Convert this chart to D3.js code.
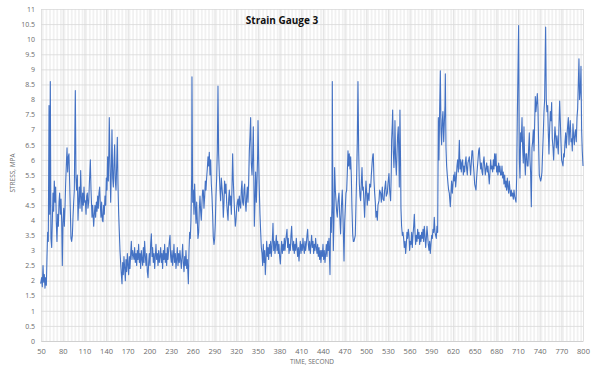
<!DOCTYPE html>
<html>
<head>
<meta charset="utf-8">
<script src="https://cdn.jsdelivr.net/npm/d3@7"></script>
<style>
  body { margin: 0; background: #fff; }
  svg { display: block; }
  .tick text { font-family: "Open Sans", "Liberation Sans", sans-serif; fill: #6b6b6b; }
</style>
</head>
<body>
<svg id="chart" width="600" height="375"></svg>
<script>
// values (time in s, stress)
const timeSec = [
  49.5,50.9,51.8,52.8,53.7,54.6,55.5,56.5,57.4,58.3,59.2,60.1,61.1,62.0,62.9,63.8,64.8,65.7,66.6,67.5,
  68.4,69.4,70.3,71.2,72.1,73.1,74.0,74.9,75.8,76.7,77.7,78.6,79.5,80.4,81.4,82.3,83.2,84.1,85.0,86.0,
  86.9,87.8,88.7,89.7,90.6,91.5,92.4,93.4,94.3,95.2,96.1,97.0,97.5,98.4,99.3,100.3,101.2,102.1,103.0,104.0,
  104.9,105.8,106.7,107.6,108.6,109.5,110.4,111.3,112.3,113.2,114.1,115.0,116.0,116.9,118.3,119.2,120.6,121.5,122.9,123.8,
  124.7,125.6,126.6,127.5,128.4,129.3,130.2,131.2,132.1,133.0,133.9,134.9,135.8,136.7,137.6,138.5,139.5,140.4,141.3,142.2,
  143.2,144.1,144.5,145.5,146.4,147.3,148.2,149.2,150.1,151.0,151.9,152.8,153.8,154.7,155.6,156.5,157.5,158.4,159.3,160.2,
  161.2,162.1,163.0,163.9,164.8,165.8,166.7,167.6,168.5,169.5,170.4,171.3,172.2,173.1,174.1,175.0,175.9,176.8,
  178.7,179.6,180.5,181.5,182.4,183.3,184.2,185.1,186.1,187.0,187.9,188.8,189.8,190.7,191.6,192.5,193.4,194.4,195.3,196.2,
  197.1,198.1,199.0,199.9,200.8,201.7,202.7,203.6,204.5,205.4,206.4,207.3,208.2,209.1,210.0,211.0,211.9,212.8,213.7,214.7,
  215.6,216.5,217.4,218.3,219.3,220.2,221.1,222.0,223.0,223.9,224.8,225.7,226.6,227.6,228.5,229.4,230.3,231.3,232.2,233.1,
  234.0,234.9,235.9,236.8,237.7,238.6,239.6,240.5,241.4,242.3,243.2,244.2,245.1,246.0,246.9,247.9,248.8,249.7,250.6,251.6,
  252.5,253.4,253.9,254.8,255.7,256.6,257.5,258.5,258.9,259.9,260.8,261.7,262.6,263.5,264.5,265.4,266.3,267.2,268.2,269.1,
  270.0,270.9,271.8,272.8,273.7,274.6,275.5,276.5,277.4,278.3,279.2,280.1,281.1,282.0,282.9,283.8,284.8,285.7,286.6,287.5,
  288.4,289.4,290.3,291.2,292.1,293.1,294.0,294.9,295.8,296.8,297.7,298.6,299.5,300.4,301.4,302.3,303.2,
  304.1,305.1,306.0,306.9,307.8,308.8,309.7,310.6,311.5,312.4,313.4,314.3,315.2,316.1,317.1,318.0,318.9,319.8,320.7,321.7,
  322.6,323.5,324.4,325.4,326.3,327.2,328.1,329.0,330.0,330.9,331.8,332.7,333.7,334.6,335.5,336.4,337.3,338.3,339.2,340.1,
  341.0,342.0,342.9,343.8,344.7,345.2,346.1,347.0,348.0,348.9,349.8,350.3,351.2,352.1,353.0,354.0,354.9,355.8,356.7,357.6,
  358.6,359.5,360.4,361.3,362.3,363.2,364.1,365.0,366.0,366.9,367.8,368.7,369.6,370.6,371.0,372.0,372.9,373.8,374.7,375.6,
  376.6,377.5,378.4,379.3,380.2,381.2,382.1,383.0,383.9,384.9,385.8,386.7,387.6,388.5,389.5,390.4,391.3,392.2,393.2,394.1,
  395.0,395.9,396.8,397.8,398.7,399.6,400.5,401.5,402.4,403.3,404.2,405.1,406.1,407.0,407.9,408.8,409.8,410.7,411.6,412.5,
  413.4,414.4,415.3,416.2,417.1,418.1,419.0,419.9,420.8,421.7,422.7,423.6,424.5,425.4,426.4,427.3,428.2,429.1,430.0,431.0,
  431.9,432.8,433.7,434.7,435.6,436.5,437.4,438.4,439.3,440.2,441.1,442.0,443.0,443.9,444.8,445.7,446.7,447.6,448.5,449.4,
  449.9,450.8,451.7,452.7,453.1,454.0,454.5,455.4,456.3,457.3,458.2,459.1,460.0,461.0,462.3,463.3,464.6,465.6,466.9,467.9,
  469.3,470.2,471.1,472.0,473.0,473.9,474.8,475.7,476.6,477.6,478.5,479.4,480.3,481.3,482.2,483.1,484.0,484.9,485.9,486.8,
  487.7,488.6,489.6,490.5,491.4,492.3,493.2,494.2,495.1,496.0,496.9,497.8,498.8,499.7,500.6,501.5,502.5,503.9,504.8,506.2,
  507.1,508.5,509.4,509.8,510.8,511.7,512.6,513.5,514.5,515.4,516.3,517.7,518.6,520.0,520.9,522.3,523.2,524.6,525.5,526.9,
  527.8,529.2,530.1,531.5,532.4,533.8,534.7,535.2,536.1,536.6,537.5,538.4,539.4,539.8,540.7,541.7,542.6,543.5,544.4,545.4,
  545.8,546.7,547.7,548.1,549.0,550.0,550.9,551.8,552.7,553.7,554.6,555.5,556.4,557.3,558.3,
  559.2,560.1,561.0,562.0,562.9,563.8,564.7,565.7,566.6,567.5,568.4,569.3,570.3,571.2,572.1,573.0,574.0,574.9,575.8,576.7,
  577.6,578.6,579.5,580.4,581.3,582.3,583.2,584.1,585.0,585.9,586.9,587.8,588.7,589.6,590.6,591.5,592.4,593.3,594.2,595.2,
  596.1,597.0,597.9,598.9,599.8,600.7,601.6,602.6,603.5,604.4,605.3,606.2,607.2,608.1,609.0,609.5,610.4,611.3,612.2,613.2,
  614.1,615.0,615.9,616.4,617.3,618.2,619.2,620.1,621.0,621.9,622.8,623.8,624.7,625.6,626.5,627.5,628.9,629.8,630.7,631.6,
  632.5,633.5,634.4,635.3,636.2,637.1,638.1,639.0,639.9,640.8,641.8,642.7,643.6,644.5,645.4,646.4,647.3,648.2,649.1,650.1,
  651.0,651.9,652.8,653.7,654.7,655.6,656.5,657.4,658.4,659.3,660.2,661.1,662.0,663.0,663.9,664.8,665.7,666.7,667.6,668.5,
  669.4,670.3,671.3,672.2,673.1,674.0,675.0,675.9,676.8,677.7,678.6,679.6,680.5,681.4,682.3,683.3,684.2,685.1,686.0,
  687.0,687.9,688.8,689.7,690.6,691.6,692.5,693.4,694.3,695.3,696.2,697.1,698.0,699.0,699.9,700.8,701.7,702.6,703.6,704.5,
  705.4,706.3,707.3,708.2,709.1,710.0,710.9,711.9,712.8,713.7,714.6,715.6,716.5,717.4,718.3,719.2,720.2,721.1,722.0,722.9,
  723.9,724.8,725.7,726.6,727.5,728.5,729.4,730.3,731.2,732.2,733.1,734.0,734.9,735.9,736.8,737.7,738.6,739.5,740.5,741.4,
  742.3,743.2,744.2,745.1,746.0,746.9,747.8,748.3,749.2,750.1,751.1,752.0,752.9,753.8,754.8,755.7,756.6,757.5,758.5,759.4,
  760.3,761.2,762.1,763.1,764.0,764.9,765.8,766.8,767.7,768.6,769.5,770.4,771.4,772.3,773.2,774.1,775.1,776.0,776.9,777.8,
  778.7,779.7,780.6,781.5,782.4,783.4,784.3,785.2,786.1,787.0,788.0,788.9,789.8,790.7,791.7,792.6,793.5,794.4,795.3,796.3,
  797.2,798.1,799.0,800.0
];
const stressMpa = [
  1.9,2.1,1.8,2.5,1.95,2.2,1.75,2.1,1.85,2.8,3.6,3.3,7.8,4.2,8.6,3.4,3.1,4.0,4.9,4.3,
  5.3,4.6,5.1,3.9,3.3,4.2,3.8,4.6,4.9,4.2,4.7,4.0,2.5,3.9,4.4,3.8,4.4,5.2,5.8,6.4,
  5.6,6.1,6.2,5.2,4.3,3.4,3.3,3.5,4.1,4.6,5.0,7.2,8.3,5.4,5.0,5.5,4.0,4.6,5.1,4.4,
  5.65,4.8,4.3,4.9,4.5,5.1,4.6,4.65,4.2,4.8,4.9,4.4,4.6,5.2,6.0,5.0,4.1,4.5,3.8,4.2,
  4.5,4.1,4.6,4.3,4.8,4.4,4.9,5.1,4.5,4.1,4.6,4.0,3.95,4.5,4.2,4.8,4.5,5.4,5.0,6.1,
  5.3,6.6,7.4,5.8,4.6,5.6,7.0,5.4,5.1,5.9,6.5,5.3,5.0,5.8,6.75,5.2,4.2,3.6,3.0,2.6,
  2.2,1.9,2.6,2.2,2.8,2.4,2.0,2.7,2.3,2.9,2.5,2.2,2.8,2.4,2.9,3.3,2.7,3.0,
  2.7,3.1,2.6,2.9,2.5,3.0,2.7,3.2,2.6,2.9,2.4,3.0,2.7,2.5,3.1,2.6,3.3,2.8,2.5,2.9,
  2.3,2.1,2.6,2.9,2.5,3.2,3.55,2.8,3.1,2.6,2.9,2.4,2.8,3.2,2.7,2.9,2.5,3.0,2.6,2.8,
  3.1,2.6,2.9,2.4,3.0,2.7,3.2,2.6,2.9,2.5,3.1,2.7,3.0,3.3,3.5,2.8,2.6,3.0,2.5,2.8,
  3.2,2.6,2.9,2.4,2.7,3.1,2.5,2.9,2.6,3.0,2.7,2.4,2.8,3.2,2.6,2.3,2.8,2.5,3.0,2.4,
  2.7,2.2,1.9,3.0,3.6,3.4,4.0,5.5,8.75,4.6,5.0,4.2,5.2,4.5,3.9,4.6,4.0,3.4,3.6,4.4,
  4.8,4.3,4.0,4.6,5.0,5.0,4.4,4.8,5.3,5.0,5.4,5.7,6.1,5.8,6.25,5.5,6.0,5.2,4.8,4.2,
  3.45,3.2,3.4,3.9,4.8,5.4,6.3,8.45,6.2,5.5,5.0,4.65,5.4,5.1,4.8,4.1,4.6,
  5.3,4.9,5.2,4.6,4.3,4.0,4.7,5.0,4.5,4.8,4.2,5.1,6.2,5.3,4.7,4.2,3.8,4.0,4.4,4.6,
  4.7,4.3,4.8,4.5,4.4,5.0,5.3,4.6,4.5,5.0,5.2,4.6,4.3,4.8,5.1,4.6,5.2,6.3,6.8,7.4,
  5.9,5.5,6.1,7.1,5.0,3.8,4.6,5.6,4.6,5.3,6.2,7.3,6.0,5.0,4.2,3.6,3.1,2.9,2.5,3.2,
  2.6,3.0,2.2,2.7,3.3,2.8,3.1,2.7,3.2,2.9,3.3,2.8,3.1,3.6,3.9,3.0,3.3,2.9,3.2,3.5,
  3.0,3.3,2.9,3.2,2.8,2.55,3.0,3.3,2.9,3.2,3.0,3.4,3.0,3.3,3.5,3.7,3.1,3.4,2.9,3.2,
  3.0,3.5,3.8,3.2,3.0,3.3,2.9,3.2,3.0,3.4,3.1,2.8,3.1,2.65,3.0,3.3,2.9,3.2,3.0,3.4,
  3.1,2.9,3.3,3.0,3.2,3.5,3.7,3.2,3.0,3.3,2.9,3.2,3.5,3.1,3.3,2.9,3.2,3.0,3.4,3.1,
  2.9,3.2,2.8,3.1,2.7,3.0,2.6,3.0,2.8,3.2,2.7,3.0,2.6,2.9,3.2,2.8,3.3,3.0,3.4,2.6,
  2.2,4.1,3.6,4.5,8.6,4.2,3.0,4.0,5.75,5.0,4.65,4.3,4.1,4.6,4.9,4.2,3.55,4.4,5.0,4.1,
  2.65,3.9,4.4,4.9,5.0,5.6,6.3,5.8,6.2,5.7,6.1,5.5,4.4,3.55,3.3,3.3,3.4,3.5,4.6,5.5,
  6.6,8.6,6.3,5.2,4.8,4.65,5.2,5.75,5.0,5.1,4.6,4.1,4.8,5.3,4.9,4.5,4.9,4.65,5.2,5.1,
  5.5,6.0,6.2,6.2,5.3,4.9,4.6,4.1,4.3,4.0,4.5,4.65,5.0,4.9,4.6,5.1,4.7,4.65,5.0,5.3,
  4.8,4.9,5.2,5.55,5.0,4.65,5.6,6.65,7.2,7.65,6.3,5.75,6.5,7.3,6.0,5.5,6.2,6.8,7.1,5.8,
  5.1,7.65,5.6,4.4,3.8,3.5,3.6,3.4,3.1,3.3,2.9,3.2,3.6,3.4,3.7,
  3.5,3.0,3.3,3.2,3.6,3.1,3.5,3.8,4.2,3.6,3.2,3.5,3.3,3.7,3.4,3.6,3.2,3.5,3.3,3.6,
  3.4,3.7,3.3,3.8,3.5,3.1,3.4,3.8,3.5,3.2,3.0,3.3,2.9,3.2,3.5,3.4,3.7,3.6,4.1,3.6,
  3.5,3.4,3.8,3.6,7.4,6.0,7.6,8.95,7.0,6.5,7.3,7.6,6.6,7.2,7.8,8.85,6.4,5.8,5.5,5.2,
  5.0,4.9,4.6,4.45,4.9,5.3,4.9,5.2,5.5,5.3,5.6,5.1,5.4,5.8,6.0,5.6,6.65,5.7,6.0,5.6,
  5.9,6.0,5.5,5.8,5.6,5.9,6.1,5.7,5.5,5.9,6.0,6.1,5.8,5.5,5.9,6.3,6.3,5.9,5.6,5.2,
  5.1,5.0,5.4,5.7,6.0,6.3,6.4,6.0,5.7,5.9,5.6,5.5,5.9,6.1,5.8,5.5,5.7,5.9,5.6,5.8,
  5.5,5.2,5.6,6.0,5.7,5.8,5.6,6.0,5.7,6.2,5.8,6.2,5.6,5.8,5.5,5.9,5.6,5.8,5.5,
  5.5,5.8,5.4,5.6,5.2,5.5,5.1,5.3,5.0,5.4,5.1,4.9,5.3,5.0,4.8,5.0,4.8,4.9,4.7,5.0,
  4.8,4.7,4.6,5.4,7.4,8.9,10.45,6.0,5.4,6.9,6.6,7.4,6.4,5.9,7.1,6.1,5.5,6.2,6.2,5.8,
  5.8,6.4,6.9,6.0,5.6,4.45,6.4,6.6,7.0,6.3,7.2,8.1,7.6,7.9,8.2,7.7,6.5,5.5,5.4,5.3,
  5.4,5.6,6.3,6.9,7.6,8.0,9.6,10.4,8.0,7.6,7.8,6.9,6.2,7.0,7.6,7.3,7.9,6.7,6.4,6.0,
  6.6,7.1,6.8,6.4,6.8,6.5,6.2,7.2,7.95,7.3,6.6,6.0,5.9,5.8,6.2,6.1,6.6,6.9,6.4,6.8,
  7.1,7.4,6.5,7.0,7.3,6.6,6.7,6.3,7.2,6.8,6.5,6.9,7.0,6.6,7.4,7.7,8.5,9.35,8.0,8.3,
  9.1,7.0,6.3,5.8
];
const xTickLabels = [50,80,110,140,170,200,230,260,290,320,350,380,410,440,470,500,530,560,590,620,650,680,710,740,770,800];
const yTickLabels = [0,0.5,1,1.5,2,2.5,3,3.5,4,4.5,5,5.5,6,6.5,7,7.5,8,8.5,9,9.5,10,10.5,11];

const chartTitle = "Strain Gauge 3";
const xTitle = "TIME, SECOND";
const yTitle = "STRESS, MPA";

const svg = d3.select("#chart");
const W = 600, H = 375;
const margin = {top: 9, right: 17, bottom: 34, left: 41};
const iw = W - margin.left - margin.right;
const ih = H - margin.top - margin.bottom;

const data = timeSec.map((t, i) => ({t: t, v: stressMpa[i]}));

const x = d3.scaleLinear().domain([50, 800]).range([0, iw]);
const y = d3.scaleLinear().domain([0, 11]).range([ih, 0]);

const g = svg.append("g").attr("transform", "translate(" + margin.left + "," + margin.top + ")");

// faint vertical banding (the dense category gridlines of the original)
g.append("g")
  .selectAll("line")
  .data(d3.range(52.5, 800, 5))
  .join("line")
  .attr("x1", d => x(d)).attr("x2", d => x(d))
  .attr("y1", 0).attr("y2", ih)
  .attr("stroke", "#f1f1f1")
  .attr("stroke-width", 1.8);

// horizontal gridlines
g.append("g")
  .attr("class", "grid")
  .call(d3.axisLeft(y).tickValues(yTickLabels).tickSize(-iw).tickFormat(""))
  .call(s => s.select(".domain").remove())
  .call(s => s.selectAll("line").attr("stroke", "#d9d9d9").attr("stroke-width", 0.8));

// vertical gridlines at labelled ticks
g.append("g")
  .attr("class", "grid")
  .attr("transform", "translate(0," + ih + ")")
  .call(d3.axisBottom(x).tickValues(xTickLabels).tickSize(-ih).tickFormat(""))
  .call(s => s.select(".domain").remove())
  .call(s => s.selectAll("line").attr("stroke", "#d9d9d9").attr("stroke-width", 0.8));

// axes labels
const yAxis = g.append("g")
  .call(d3.axisLeft(y).tickValues(yTickLabels).tickSize(0).tickPadding(6).tickFormat(d3.format("~g")));
yAxis.select(".domain").remove();
yAxis.selectAll("text").attr("font-size", 7).attr("fill", "#6b6b6b");

const xAxis = g.append("g")
  .attr("transform", "translate(0," + ih + ")")
  .call(d3.axisBottom(x).tickValues(xTickLabels).tickSize(0).tickPadding(8).tickFormat(d3.format("d")));
xAxis.select(".domain").attr("stroke", "#d0d0d0");
xAxis.selectAll("text").attr("font-size", 7.5).attr("fill", "#6b6b6b");

// series
const line = d3.line().x(d => x(d.t)).y(d => y(d.v));
g.append("path")
  .datum(data)
  .attr("fill", "none")
  .attr("stroke", "#4472c4")
  .attr("stroke-width", 1.1)
  .attr("stroke-linejoin", "round")
  .attr("d", line);

// titles
svg.append("text")
  .attr("x", 282).attr("y", 24)
  .attr("text-anchor", "middle")
  .attr("font-family", "'Open Sans', 'Liberation Sans', sans-serif")
  .attr("font-weight", "bold")
  .attr("font-size", 10)
  .attr("fill", "#111")
  .text(chartTitle);

svg.append("text")
  .attr("x", 312).attr("y", 364)
  .attr("text-anchor", "middle")
  .attr("font-family", "'Open Sans', 'Liberation Sans', sans-serif")
  .attr("font-size", 6.5)
  .attr("fill", "#6b6b6b")
  .text(xTitle);

svg.append("text")
  .attr("transform", "translate(15,173) rotate(-90)")
  .attr("text-anchor", "middle")
  .attr("font-family", "'Open Sans', 'Liberation Sans', sans-serif")
  .attr("font-size", 6.5)
  .attr("fill", "#6b6b6b")
  .text(yTitle);
</script>
</body>
</html>
